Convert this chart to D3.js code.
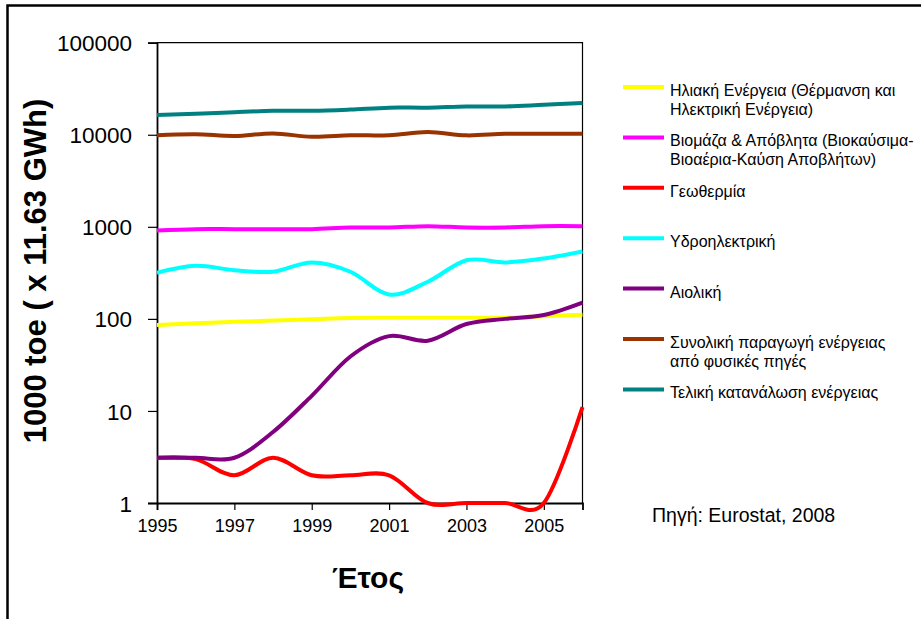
<!DOCTYPE html>
<html>
<head>
<meta charset="utf-8">
<script src="https://cdn.jsdelivr.net/npm/d3@7"></script>
<style>
  body { margin: 0; background: #fff; }
  svg { display: block; font-family: "Liberation Sans", Arial, sans-serif; }
</style>
</head>
<body>
<svg id="chart" width="921" height="619"></svg>
<script>
// years on the x axis
const years = [1995, 1996, 1997, 1998, 1999, 2000, 2001, 2002, 2003, 2004, 2005, 2006];
const xTickYears = [1995, 1997, 1999, 2001, 2003, 2005];
const yTickValues = [1, 10, 100, 1000, 10000, 100000];

// 1000 toe
const solar = [86, 89.7, 92.8, 95.9, 99.2, 102.5, 103, 103, 103, 103, 107, 111];
const biomass = [912, 943, 943, 943, 943, 984, 984, 1017, 984, 984, 1017, 1017];
const geothermal = [3.1, 3.0, 2.0, 3.1, 2.0, 2.0, 2.0, 1.0, 1.0, 1.0, 1.0, 11];
const hydro = [317, 377, 338, 325, 410, 325, 184, 253, 434, 410, 453, 540];
const wind = [3.1, 3.1, 3.1, 5.9, 14.6, 39, 65, 58, 88, 100, 110, 150];
const production = [9900, 10150, 9700, 10350, 9500, 9850, 9900, 10700, 9850, 10250, 10250, 10250];
const consumption = [16400, 16900, 17600, 18200, 18200, 18800, 19700, 19700, 20300, 20300, 21200, 22100];

const seriesNames = [
  ["Ηλιακή Ενέργεια (Θέρμανση και", "Ηλεκτρική Ενέργεια)"],
  ["Βιομάζα & Απόβλητα (Βιοκαύσιμα-", "Βιοαέρια-Καύση Αποβλήτων)"],
  ["Γεωθερμία"],
  ["Υδροηλεκτρική"],
  ["Αιολική"],
  ["Συνολική παραγωγή ενέργειας", "από φυσικές πηγές"],
  ["Τελική κατανάλωση ενέργειας"]
];
const seriesValues = [solar, biomass, geothermal, hydro, wind, production, consumption];
const seriesColors = ["#FFFF00", "#FF00FF", "#FF0000", "#00FFFF", "#800080", "#993300", "#008080"];

const svg = d3.select("#chart");

// outer frame (only top and left visible)
svg.append("path")
  .attr("d", "M7.5,619 V5.5 H921")
  .attr("fill", "none")
  .attr("stroke", "#000")
  .attr("stroke-width", 2.5);

const plot = { left: 157, right: 582.5, top: 42.7, bottom: 503 };

const x = d3.scaleLinear().domain([1995, 2006]).range([plot.left, plot.right]);
const y = d3.scaleLog().domain([1, 100000]).range([plot.bottom, plot.top]);

// plot area box (top + right)
svg.append("path")
  .attr("d", `M${plot.left},${plot.top} H${plot.right} V${plot.bottom}`)
  .attr("fill", "none")
  .attr("stroke", "#000")
  .attr("stroke-width", 1.2);

// y axis
const yAxis = svg.append("g")
  .attr("transform", `translate(${plot.left},0)`)
  .call(d3.axisLeft(y).tickValues(yTickValues).tickFormat(d3.format("d")).tickSizeOuter(0).tickSize(9).tickPadding(16));
yAxis.select(".domain").attr("stroke-width", 1.8);
yAxis.selectAll(".tick line").attr("stroke-width", 1.2);
yAxis.selectAll(".tick text")
  .attr("font-size", "22.5px")
  .attr("font-family", "'Liberation Sans', Arial, sans-serif")
  .attr("fill", "#000")
  .attr("dy", "0.36em");

// x axis
const xAxis = svg.append("g")
  .attr("transform", `translate(0,${plot.bottom})`)
  .call(d3.axisBottom(x).tickValues(xTickYears).tickFormat(d3.format("d")).tickSizeOuter(0).tickSize(7).tickPadding(9));
xAxis.select(".domain").attr("stroke-width", 1.8);
xAxis.selectAll(".tick line").attr("stroke-width", 1.2);
xAxis.selectAll(".tick text")
  .attr("font-size", "18px")
  .attr("font-family", "'Liberation Sans', Arial, sans-serif")
  .attr("fill", "#000");

// axis titles
svg.append("text")
  .attr("transform", "translate(46,271) rotate(-90)")
  .attr("text-anchor", "middle")
  .attr("font-size", "31px")
  .attr("font-weight", "bold")
  .text("1000 toe ( x 11.63 GWh)");

svg.append("text")
  .attr("x", 368)
  .attr("y", 588)
  .attr("text-anchor", "middle")
  .attr("font-size", "30px")
  .attr("font-weight", "bold")
  .text("Έτος");

// series lines, smoothed like the original
const line = d3.line()
  .x((d, i) => x(years[i]))
  .y(d => y(d))
  .curve(d3.curveCardinal.tension(0));

svg.append("g")
  .selectAll("path")
  .data(seriesValues)
  .join("path")
  .attr("d", d => line(d))
  .attr("fill", "none")
  .attr("stroke", (d, i) => seriesColors[i])
  .attr("stroke-width", 4)
  .attr("stroke-linejoin", "round");

// legend
const legend = svg.append("g").attr("transform", "translate(623,87)");
const entries = legend.selectAll("g")
  .data(seriesNames)
  .join("g")
  .attr("transform", (d, i) => `translate(0,${i * 50.4})`);

entries.append("line")
  .attr("x1", 0).attr("x2", 41)
  .attr("y1", 0).attr("y2", 0)
  .attr("stroke", (d, i) => seriesColors[i])
  .attr("stroke-width", 4);

entries.append("text")
  .attr("x", 47)
  .attr("y", 9)
  .attr("font-size", "16px")
  .attr("fill", "#000")
  .selectAll("tspan")
  .data(d => d)
  .join("tspan")
  .attr("x", 47)
  .attr("dy", (d, i) => i === 0 ? 0 : 19)
  .text(d => d);

// source note
svg.append("text")
  .attr("x", 652)
  .attr("y", 522)
  .attr("font-size", "19.5px")
  .attr("fill", "#000")
  .text("Πηγή: Eurostat, 2008");
</script>
</body>
</html>
